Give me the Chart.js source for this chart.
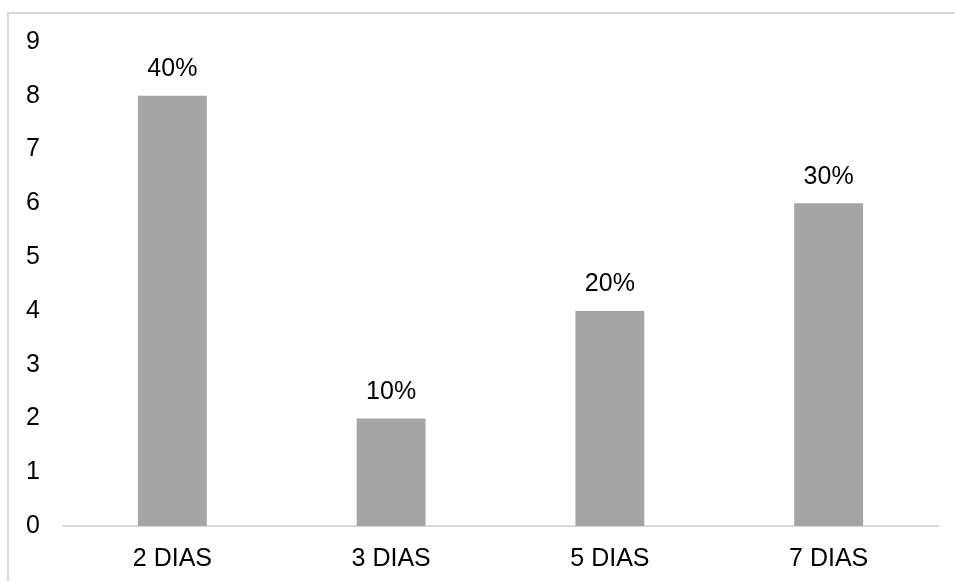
<!DOCTYPE html>
<html>
<head>
<meta charset="utf-8">
<script src="https://cdn.jsdelivr.net/npm/chart.js@4.4.1/dist/chart.umd.min.js"></script>
<style>
    html, body { margin: 0; padding: 0; background: #fff; }
    #wrap { position: relative; width: 955px; height: 581px; overflow: hidden; }
    #frame { position: absolute; left: 7px; top: 12px; width: 1000px; height: 1000px;
             border-left: 2px solid #d9d9d9; border-top: 2px solid #d9d9d9; }
    #diasChart { position: absolute; left: 0; top: 0; }
</style>
</head>
<body>
<div id="wrap">
    <div id="frame"></div>
    <canvas id="diasChart" width="955" height="581"></canvas>
</div>
<script>
    // data
    const categories = ['2 DIAS', '3 DIAS', '5 DIAS', '7 DIAS'];
    const counts = [8, 2, 4, 6];
    const percentLabels = ['40%', '10%', '20%', '30%'];
    const yTicks = [0, 1, 2, 3, 4, 5, 6, 7, 8, 9];

    const fontFamily = '"Liberation Sans", Arial, sans-serif';

    // draws the percentage above every bar
    const barLabels = {
        id: 'barLabels',
        afterDatasetsDraw(chart) {
            const ctx = chart.ctx;
            const meta = chart.getDatasetMeta(0);
            ctx.save();
            ctx.font = '25px ' + fontFamily;
            ctx.fillStyle = '#000';
            ctx.textAlign = 'center';
            ctx.textBaseline = 'middle';
            meta.data.forEach((bar, i) => {
                ctx.fillText(percentLabels[i], bar.x, bar.y - 26.5);
            });
            ctx.restore();
        }
    };

    new Chart(document.getElementById('diasChart'), {
        type: 'bar',
        data: {
            labels: categories,
            datasets: [{
                data: counts,
                backgroundColor: '#a5a5a5',
                barPercentage: 0.315,
                categoryPercentage: 1
            }]
        },
        options: {
            responsive: false,
            animation: false,
            layout: { padding: { top: 42, right: 17, bottom: 7, left: 0 } },
            plugins: {
                legend: { display: false },
                tooltip: { enabled: false }
            },
            scales: {
                x: {
                    afterFit(scale) { scale.height = 48; },
                    grid: { display: false },
                    border: { display: true, color: '#d9d9d9', width: 2 },
                    ticks: {
                        color: '#000',
                        padding: 10,
                        font: { family: fontFamily, size: 25 }
                    }
                },
                y: {
                    min: 0,
                    max: 9,
                    afterFit(scale) { scale.width = 63; },
                    afterBuildTicks(scale) { scale.ticks = yTicks.map(v => ({ value: v })); },
                    grid: { display: false },
                    border: { display: false },
                    ticks: {
                        color: '#000',
                        padding: 15,
                        font: { family: fontFamily, size: 25 }
                    }
                }
            }
        },
        plugins: [barLabels]
    });
</script>
</body>
</html>
